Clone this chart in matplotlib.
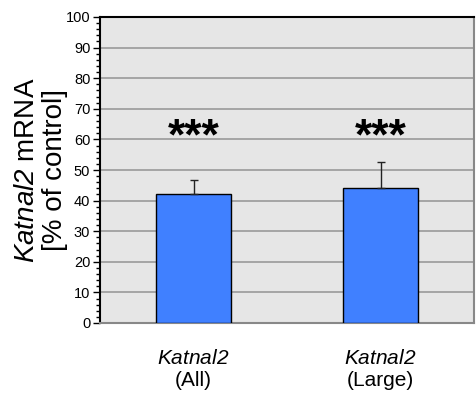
import matplotlib
matplotlib.use("Agg")
import matplotlib.pyplot as plt
from matplotlib.ticker import MultipleLocator

plt.rcParams['font.family'] = ['Liberation Sans', 'DejaVu Sans']
# gene names are set fully in italic (digits included) through the sf math font
plt.rcParams['mathtext.fontset'] = 'custom'
plt.rcParams['mathtext.rm'] = 'Liberation Sans'
plt.rcParams['mathtext.sf'] = 'Liberation Sans:italic'

# data
genes = ["Katnal2", "Katnal2"]
subsets = ["(All)", "(Large)"]
means = [42.0, 44.2]
errors = [4.6, 8.4]
significance = ["***", "***"]

fig = plt.figure(figsize=(4.76, 3.97), dpi=100)
ax = fig.add_axes([100 / 476, 74 / 397, 374 / 476, 306 / 397])
ax.set_facecolor("#e6e6e6")

x = list(range(len(means)))
ax.bar(x, means, width=0.405, color="#4080ff", edgecolor="black", linewidth=1.0, zorder=3)
ax.errorbar(x, means, yerr=[[0] * len(errors), errors], fmt="none", ecolor="#222222",
            elinewidth=1.0, capsize=3, capthick=1.0, zorder=4)

for xi, s in zip(x, significance):
    ax.text(xi, 60.5, s, ha="center", va="center", fontsize=32, fontweight="bold")

ax.set_xlim(-0.5, 1.5)
ax.set_ylim(0, 100)
ax.yaxis.set_major_locator(MultipleLocator(10))
ax.yaxis.set_minor_locator(MultipleLocator(2))
ax.yaxis.grid(True, which="major", color="#9a9a9a", linewidth=1.2, zorder=0)
ax.set_axisbelow(True)

ax.set_xticks(x)
ax.set_xticklabels([f"$\\mathsf{{{g}}}$\n{s}" for g, s in zip(genes, subsets)],
                   fontsize=15, linespacing=1.25)
ax.tick_params(axis="x", length=0, pad=18.5)
ax.tick_params(axis="y", which="major", length=5, width=1, labelsize=10.5, pad=2, direction="out")
ax.tick_params(axis="y", which="minor", length=3, width=1, direction="out")

for side in ("left", "top"):
    ax.spines[side].set_color("black")
    ax.spines[side].set_linewidth(1.5)
for side in ("right", "bottom"):
    ax.spines[side].set_color("#888888")
    ax.spines[side].set_linewidth(1.5)

ax.set_ylabel("$\\mathsf{Katnal2}$ mRNA\n[% of control]", fontsize=20, linespacing=1.1)
ax.yaxis.set_label_coords(-0.085, 0.5)

fig.savefig("out.png", dpi=100)
